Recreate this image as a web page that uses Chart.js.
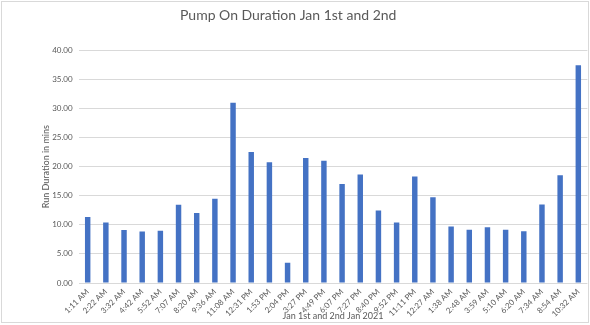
<!DOCTYPE html>
<html>
<head>
<meta charset="utf-8">
<script src="https://cdn.jsdelivr.net/npm/chart.js@4"></script>
<style>
  html, body { margin: 0; padding: 0; background: #fff; }
  #wrap { width: 590px; height: 325px; position: relative; }
</style>
</head>
<body>
<div id="wrap"><canvas id="c" width="590" height="325"></canvas></div>
<script>
const categories = ["1:11 AM","2:22 AM","3:32 AM","4:42 AM","5:52 AM","7:07 AM","8:20 AM","9:36 AM","11:08 AM","12:31 PM","1:53 PM","2:04 PM","3:27 PM","4:49 PM","6:07 PM","7:27 PM","8:40 PM","9:52 PM","11:11 PM","12:27 AM","1:38 AM","2:48 AM","3:59 AM","5:10 AM","6:20 AM","7:34 AM","8:54 AM","10:32 AM"];
const runDuration = [11.36,10.40,9.09,8.86,8.98,13.47,12.05,14.49,30.97,22.50,20.74,3.47,21.48,21.03,17.03,18.63,12.46,10.40,18.29,14.74,9.71,9.14,9.60,9.14,8.91,13.49,18.51,37.43];
const titleText = "Pump On Duration Jan 1st and 2nd";
const xTitle = "Jan 1st and 2nd Jan 2021";
const yTitle = "Run Duration in mins";

const borderPlugin = {
  id: 'border',
  afterLayout(chart) {
    if (chart.titleBlock) { chart.titleBlock.right -= 11; }
  },
  afterDraw(chart) {
    const ctx = chart.ctx;
    ctx.save();
    ctx.strokeStyle = '#d9d9d9';
    ctx.lineWidth = 1;
    ctx.strokeRect(1.5, 1.5, 587, 321);
    ctx.restore();
  }
};

new Chart(document.getElementById('c'), {
  type: 'bar',
  data: {
    labels: categories,
    datasets: [{
      data: runDuration,
      backgroundColor: '#4472C4',
      borderWidth: 0,
      barPercentage: 0.3,
      categoryPercentage: 1.0
    }]
  },
  options: {
    responsive: false,
    animation: false,
    layout: { padding: { left: 0, right: 2.6, top: 0, bottom: 0 } },
    plugins: {
      legend: { display: false },
      tooltip: { enabled: false },
      title: {
        display: true,
        text: titleText,
        color: '#595959',
        font: { family: 'Lato', size: 14, weight: 'normal' },
        padding: { top: 7, bottom: 26.5 }
      }
    },
    scales: {
      x: {
        grid: { display: false, drawTicks: false },
        border: { display: false },
        ticks: {
          autoSkip: false,
          minRotation: 45,
          maxRotation: 45,
          padding: 4,
          color: '#595959',
          font: { family: 'Lato', size: 8 }
        },
        title: {
          display: true,
          text: xTitle,
          color: '#595959',
          font: { family: 'Lato', size: 9 },
          padding: { top: 0, bottom: 3.5 }
        },
        afterFit(scale) { scale.height = 42; }
      },
      y: {
        min: 0,
        max: 40,
        grid: { color: '#d9d9d9', drawTicks: false },
        border: { display: false },
        ticks: {
          stepSize: 5,
          padding: 6,
          color: '#595959',
          font: { family: 'Lato', size: 8 },
          callback: v => Number(v).toFixed(2)
        },
        title: {
          display: true,
          text: yTitle,
          color: '#595959',
          font: { family: 'Lato', size: 9 },
          padding: { top: 40.6, bottom: 0 }
        },
        afterFit(scale) { scale.width = 78.6; }
      }
    }
  },
  plugins: [borderPlugin]
});
</script>
</body>
</html>
